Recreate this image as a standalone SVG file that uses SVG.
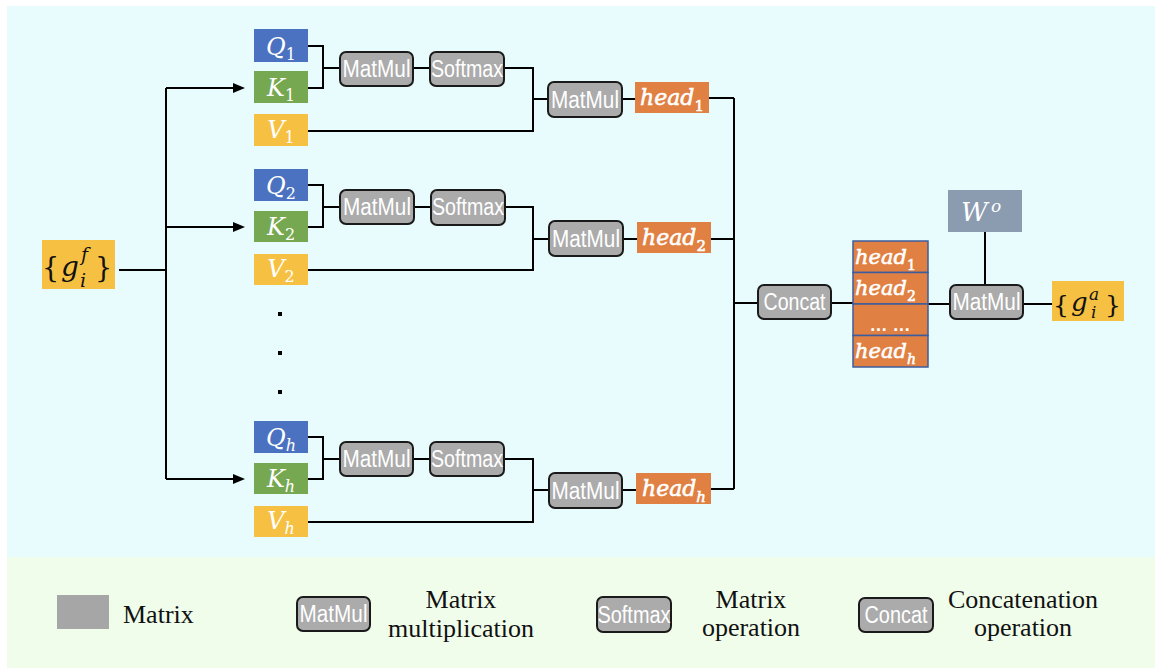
<svg xmlns="http://www.w3.org/2000/svg" width="1161" height="669" viewBox="0 0 1161 669">
<style>
.op{fill:#ABABAB;stroke:#1A1A1A;stroke-width:2}
.optext{font-family:"Liberation Sans",Arial,sans-serif;font-size:23px;fill:#FFFFFF;text-anchor:middle}
.m{font-family:"DejaVu Serif",serif;font-style:italic;fill:#FFFFFF}
.hd{stroke:#FFFFFF;stroke-width:0.6px}
.mb{font-family:"DejaVu Serif",serif;fill:#111111}
.wire{stroke:#000000;stroke-width:2;fill:none}
.leg{font-family:"Liberation Serif","Times New Roman",serif;font-size:26px;fill:#111111;text-anchor:middle}
.legs{font-family:"Liberation Serif","Times New Roman",serif;font-size:26px;fill:#111111;text-anchor:start}
.q{fill:#4A72C0}.k{fill:#76A851}.v{fill:#F6C143}.h{fill:#E08042}
</style>
<defs>
<marker id="arr" markerUnits="userSpaceOnUse" markerWidth="12" markerHeight="10" refX="6" refY="5" orient="auto">
<path d="M0,0 L12,5 L0,10 z" fill="#000000"/>
</marker>
</defs>
<rect x="0" y="0" width="1161" height="669" fill="#FFFFFF"/>
<rect x="7" y="6" width="1148" height="551" fill="#E8FCFD"/>
<rect x="7" y="557" width="1148" height="111" fill="#F0FDEB"/>

<g id="connectors">
<path class="wire" d="M119,270 H166 M166,88 V479"/>
<path class="wire" d="M166,88 H239" marker-end="url(#arr)"/>
<path class="wire" d="M166,227 H239" marker-end="url(#arr)"/>
<path class="wire" d="M166,479 H239" marker-end="url(#arr)"/>
<path class="wire" d="M308,46 H323 V88 H308 M323,68 H340 M413,68 H430 M504,68 H533 V131 H308 M533,99 H548 M622,99 H635 M709,98 H734"/>
<path class="wire" d="M308,185 H323 V227 H308 M323,207 H340 M413,207 H430 M504,207 H533 V270 H308 M533,239 H549 M623,239 H637 M711,239 H734"/>
<path class="wire" d="M308,437 H323 V479 H308 M323,459 H340 M413,459 H430 M504,459 H533 V522 H308 M533,490 H549 M622,490 H636 M711,489 H734"/>
<path class="wire" d="M734,98 V489 M734,303 H758 M831,303 H853 M928,304 H950 M985,232 V285 M1023,304 H1052"/>
</g>

<g id="g_f">
<rect x="42" y="240" width="73" height="49" class="v"/>
<text class="mb" font-size="27"><tspan x="42" y="277">{</tspan><tspan x="61" y="276" font-size="28" font-style="italic">g</tspan><tspan x="81" y="261" font-size="19" font-style="italic">f</tspan><tspan x="80" y="287" font-size="19" font-style="italic">i</tspan><tspan x="95" y="277">}</tspan></text>
</g>

<g id="Q1"><rect x="254" y="29" width="54" height="33" class="q"/><text class="m" font-size="24" x="281" y="55" text-anchor="middle">Q<tspan font-size="16" font-style="normal" dy="5">1</tspan></text></g>
<g id="K1"><rect x="254" y="71" width="54" height="32" class="k"/><text class="m" font-size="24" x="281" y="96" text-anchor="middle">K<tspan font-size="16" font-style="normal" dy="5">1</tspan></text></g>
<g id="V1"><rect x="254" y="114" width="54" height="32" class="v"/><text class="m" font-size="24" x="281" y="138" text-anchor="middle">V<tspan font-size="16" font-style="normal" dy="5">1</tspan></text></g>
<g id="matmul1a"><rect x="340" y="52" width="73" height="34" rx="6" class="op"/><text class="optext" x="376.5" y="77" textLength="68" lengthAdjust="spacingAndGlyphs">MatMul</text></g>
<g id="softmax1"><rect x="430" y="52" width="74" height="34" rx="6" class="op"/><text class="optext" x="467" y="77" textLength="72" lengthAdjust="spacingAndGlyphs">Softmax</text></g>
<g id="matmul1b"><rect x="548" y="82" width="74" height="35" rx="6" class="op"/><text class="optext" x="585" y="108" textLength="68" lengthAdjust="spacingAndGlyphs">MatMul</text></g>
<g id="head1"><rect x="635" y="82" width="74" height="31" class="h"/><text class="m hd" font-size="22" x="672" y="105" text-anchor="middle">head<tspan font-size="15" font-style="normal" dy="6">1</tspan></text></g>

<g id="Q2"><rect x="254" y="169" width="54" height="32" class="q"/><text class="m" font-size="24" x="281" y="194" text-anchor="middle">Q<tspan font-size="16" font-style="normal" dy="5">2</tspan></text></g>
<g id="K2"><rect x="254" y="211" width="54" height="31" class="k"/><text class="m" font-size="24" x="281" y="235" text-anchor="middle">K<tspan font-size="16" font-style="normal" dy="5">2</tspan></text></g>
<g id="V2"><rect x="254" y="254" width="54" height="31" class="v"/><text class="m" font-size="24" x="281" y="277" text-anchor="middle">V<tspan font-size="16" font-style="normal" dy="5">2</tspan></text></g>
<g id="matmul2a"><rect x="340" y="190" width="74" height="34" rx="6" class="op"/><text class="optext" x="377" y="215" textLength="68" lengthAdjust="spacingAndGlyphs">MatMul</text></g>
<g id="softmax2"><rect x="431" y="190" width="74" height="35" rx="6" class="op"/><text class="optext" x="468" y="215" textLength="72" lengthAdjust="spacingAndGlyphs">Softmax</text></g>
<g id="matmul2b"><rect x="549" y="221" width="74" height="35" rx="6" class="op"/><text class="optext" x="586" y="247" textLength="68" lengthAdjust="spacingAndGlyphs">MatMul</text></g>
<g id="head2"><rect x="637" y="222" width="74" height="31" class="h"/><text class="m hd" font-size="22" x="674" y="245" text-anchor="middle">head<tspan font-size="15" font-style="normal" dy="6">2</tspan></text></g>

<g id="dots">
<rect x="278" y="312" width="4" height="4" fill="#000000"/>
<rect x="278" y="351" width="4" height="4" fill="#000000"/>
<rect x="278" y="390" width="4" height="4" fill="#000000"/>
</g>

<g id="Qh"><rect x="254" y="421" width="54" height="32" class="q"/><text class="m" font-size="24" x="281" y="446" text-anchor="middle">Q<tspan font-size="16" dy="5">h</tspan></text></g>
<g id="Kh"><rect x="254" y="463" width="54" height="31" class="k"/><text class="m" font-size="24" x="281" y="487" text-anchor="middle">K<tspan font-size="16" dy="5">h</tspan></text></g>
<g id="Vh"><rect x="254" y="506" width="54" height="31" class="v"/><text class="m" font-size="24" x="281" y="529" text-anchor="middle">V<tspan font-size="16" dy="5">h</tspan></text></g>
<g id="matmulha"><rect x="340" y="442" width="73" height="34" rx="6" class="op"/><text class="optext" x="376.5" y="467" textLength="68" lengthAdjust="spacingAndGlyphs">MatMul</text></g>
<g id="softmaxh"><rect x="430" y="442" width="74" height="34" rx="6" class="op"/><text class="optext" x="467" y="467" textLength="72" lengthAdjust="spacingAndGlyphs">Softmax</text></g>
<g id="matmulhb"><rect x="549" y="473" width="73" height="35" rx="6" class="op"/><text class="optext" x="585.5" y="499" textLength="68" lengthAdjust="spacingAndGlyphs">MatMul</text></g>
<g id="headh"><rect x="636" y="473" width="75" height="31" class="h"/><text class="m hd" font-size="22" x="674" y="496" text-anchor="middle">head<tspan font-size="15" dy="6">h</tspan></text></g>

<g id="concat"><rect x="758" y="285" width="73" height="34" rx="6" class="op"/><text class="optext" x="794.5" y="310" textLength="62" lengthAdjust="spacingAndGlyphs">Concat</text></g>

<g id="stack">
<rect x="853" y="241" width="75" height="31.5" class="h" stroke="#3D5C9E" stroke-width="1.5"/>
<rect x="853" y="272.5" width="75" height="31.5" class="h" stroke="#3D5C9E" stroke-width="1.5"/>
<rect x="853" y="304" width="75" height="31.5" class="h" stroke="#3D5C9E" stroke-width="1.5"/>
<rect x="853" y="335.5" width="75" height="31.5" class="h" stroke="#3D5C9E" stroke-width="1.5"/>
<text class="m hd" font-size="21" x="855" y="264">head<tspan font-size="14" font-style="normal" dy="6">1</tspan></text>
<text class="m hd" font-size="21" x="855" y="295">head<tspan font-size="14" font-style="normal" dy="6">2</tspan></text>
<text x="890" y="331" font-family="Liberation Sans, Arial, sans-serif" font-size="18" font-weight="bold" fill="#FFFFFF" text-anchor="middle">… …</text>
<text class="m hd" font-size="21" x="855" y="358">head<tspan font-size="14" dy="6">h</tspan></text>
</g>

<g id="Wo"><rect x="948" y="190" width="74" height="42" fill="#8B9BB0"/><text class="m" font-size="26"><tspan x="961" y="221">W</tspan><tspan x="991" y="212" font-size="17">o</tspan></text></g>

<g id="matmul3"><rect x="950" y="285" width="73" height="34" rx="6" class="op"/><text class="optext" x="986.5" y="310" textLength="68" lengthAdjust="spacingAndGlyphs">MatMul</text></g>

<g id="g_a">
<rect x="1052" y="281" width="72" height="40" class="v"/>
<text class="mb" font-size="25"><tspan x="1053" y="313">{</tspan><tspan x="1071" y="311" font-size="26" font-style="italic">g</tspan><tspan x="1089" y="300" font-size="17" font-style="italic">a</tspan><tspan x="1091" y="318" font-size="17" font-style="italic">i</tspan><tspan x="1105" y="313">}</tspan></text>
</g>

<g id="legend">
<rect x="57" y="595" width="52" height="34" fill="#A6A6A6"/>
<text class="legs" x="123" y="623">Matrix</text>
<rect x="297" y="597" width="73" height="34" rx="6" class="op"/>
<text class="optext" x="333.5" y="622" textLength="68" lengthAdjust="spacingAndGlyphs">MatMul</text>
<text class="leg" x="461" y="608">Matrix</text>
<text class="leg" x="461" y="637">multiplication</text>
<rect x="597" y="597" width="74" height="35" rx="6" class="op"/>
<text class="optext" x="634" y="623" textLength="73" lengthAdjust="spacingAndGlyphs">Softmax</text>
<text class="leg" x="751" y="608">Matrix</text>
<text class="leg" x="751" y="636">operation</text>
<rect x="859" y="598" width="74" height="34" rx="6" class="op"/>
<text class="optext" x="896" y="623" textLength="63" lengthAdjust="spacingAndGlyphs">Concat</text>
<text class="leg" x="1023" y="608">Concatenation</text>
<text class="leg" x="1023" y="636">operation</text>
</g>
</svg>
